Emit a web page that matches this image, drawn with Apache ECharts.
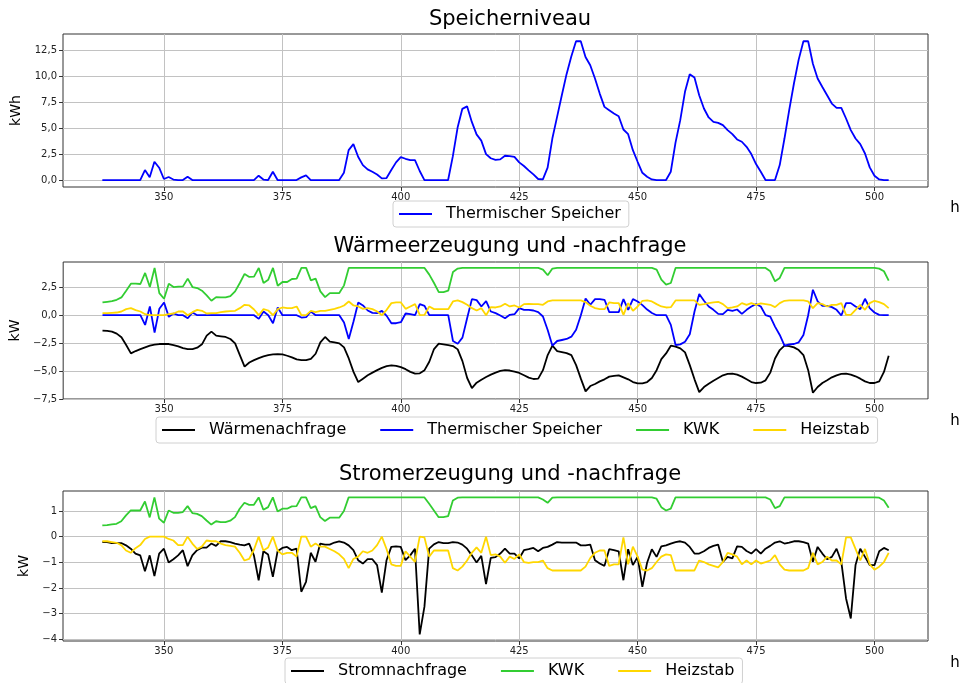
<!DOCTYPE html>
<html>
<head>
<meta charset="utf-8">
<script src="https://cdn.jsdelivr.net/npm/echarts@6.0.0/dist/echarts.min.js"></script>
<style>
  html, body { margin: 0; padding: 0; background: #fff; }
  #main { width: 962px; height: 683px; }
</style>
</head>
<body>
<div id="main"></div>
<script>
// Stunden 337 ... 503
const hours = Array.from({ length: 167 }, (_, i) => 337 + i);
const xTicks = [350, 375, 400, 425, 450, 475, 500];

// Speicherniveau (kWh)
const speicherNiveau = [
  0, 0, 0, 0, 0, 0, 0, 0, 0, 0.96,
  0.26, 1.76, 1.19, 0.1, 0.29, 0.05, 0, 0, 0.32, 0,
  0, 0, 0, 0, 0, 0, 0, 0, 0, 0,
  0, 0, 0, 0.42, 0.05, 0, 0.8, 0, 0, 0,
  0, 0, 0.26, 0.45, 0, 0, 0, 0, 0, 0,
  0, 0.7, 2.88, 3.46, 2.24, 1.44, 1.03, 0.8, 0.54, 0.16,
  0.19, 0.96, 1.7, 2.21, 2.05, 1.92, 1.92, 0.87, 0, 0,
  0, 0, 0, 0, 2.3, 5.06, 6.86, 7.1, 5.6, 4.4,
  3.8, 2.5, 2.1, 1.95, 1.99, 2.34, 2.31, 2.24, 1.7, 1.35,
  0.93, 0.54, 0.1, 0.06, 1.2, 4.0, 6.09, 8.17, 10.2, 11.9,
  13.37, 13.37, 11.86, 11.06, 9.78, 8.33, 7.05, 6.73, 6.41, 6.15,
  4.87, 4.42, 2.88, 1.76, 0.7, 0.32, 0.06, 0, 0, 0,
  0.8, 3.6, 5.77, 8.5, 10.2, 9.87, 8.17, 6.89, 6.03, 5.61,
  5.51, 5.29, 4.81, 4.42, 3.91, 3.69, 3.2, 2.5, 1.54, 0.8,
  0, 0, 0, 1.44, 4.0, 6.73, 9.3, 11.6, 13.37, 13.37,
  11.2, 9.78, 8.97, 8.17, 7.37, 6.96, 6.96, 5.93, 4.81, 4.0,
  3.46, 2.56, 1.22, 0.42, 0.06, 0, 0
];

// Wärme (kW)
const waermeNachfrage = [
  -1.38, -1.41, -1.47, -1.65, -1.98, -2.67, -3.42, -3.21, -3.03, -2.88,
  -2.73, -2.64, -2.58, -2.58, -2.58, -2.67, -2.79, -2.94, -3.03, -3.03,
  -2.91, -2.61, -1.83, -1.47, -1.83, -1.89, -1.95, -2.13, -2.52, -3.57,
  -4.6, -4.23, -4.02, -3.84, -3.69, -3.57, -3.51, -3.48, -3.51, -3.63,
  -3.78, -3.96, -4.02, -4.02, -3.9, -3.45, -2.43, -1.95, -2.37, -2.43,
  -2.52, -2.88, -3.87, -5.07, -5.98, -5.68, -5.38, -5.14, -4.92, -4.71,
  -4.56, -4.5, -4.53, -4.65, -4.83, -5.07, -5.23, -5.2, -4.92, -4.17,
  -3.03, -2.55, -2.61, -2.67, -2.76, -3.06, -4.11, -5.62, -6.52, -6.04,
  -5.77, -5.53, -5.32, -5.14, -4.98, -4.92, -4.95, -5.05, -5.17, -5.38,
  -5.59, -5.71, -5.68, -4.92, -3.57, -2.73, -3.21, -3.3, -3.39, -3.57,
  -4.47, -5.68, -6.82, -6.34, -6.16, -5.92, -5.74, -5.5, -5.44, -5.38,
  -5.56, -5.74, -5.98, -6.1, -6.1, -5.98, -5.62, -4.92, -3.93, -3.42,
  -2.73, -2.82, -2.97, -3.33, -4.47, -5.74, -6.88, -6.43, -6.13, -5.86,
  -5.62, -5.38, -5.26, -5.23, -5.32, -5.5, -5.74, -5.98, -6.07, -6.04,
  -5.83, -5.14, -3.87, -3.12, -2.73, -2.76, -2.88, -3.12, -3.57, -4.92,
  -6.94, -6.43, -6.07, -5.83, -5.56, -5.38, -5.26, -5.23, -5.32, -5.47,
  -5.68, -5.92, -6.07, -6.07, -5.92, -5.08, -3.63
];
const waermeSpeicher = [
  0, 0, 0, 0, 0, 0, 0, 0, 0, -0.87,
  0.78, -1.56, 0.57, 1.14, -0.15, 0.15, 0, 0, -0.27, 0.24,
  0, 0, 0, 0, 0, 0, 0, 0, 0, 0,
  0, 0, 0, -0.33, 0.33, 0, -0.72, 0.69, 0, 0,
  0, 0, -0.21, -0.18, 0.33, 0, 0, 0, 0, 0,
  0, -0.66, -2.13, -0.57, 1.14, 0.87, 0.42, 0.21, 0.18, 0.39,
  -0.06, -0.72, -0.72, -0.63, 0.15, 0.09, 0, 0.99, 0.84, 0,
  0, 0, 0, 0, -2.31, -2.55, -2.01, -0.25, 1.44, 1.35,
  0.78, 1.26, 0.33, 0.18, -0.03, -0.27, 0.03, 0.09, 0.63, 0.48,
  0.48, 0.42, 0.27, -0.12, -1.32, -2.73, -2.31, -2.22, -2.13, -1.92,
  -1.3, 0, 1.5, 0.93, 1.44, 1.44, 1.38, 0.27, 0.27, 0.27,
  1.44, 0.48, 1.44, 1.23, 0.9, 0.5, 0.2, 0, 0, 0,
  -0.87, -2.67, -2.61, -2.37, -1.71, 0.33, 1.89, 1.29, 0.78, 0.48,
  0.12, 0.09, 0.48, 0.39, 0.51, 0.12, 0.48, 0.78, 0.99, 0.78,
  0, -0.12, -1.02, -1.77, -2.73, -2.61, -2.58, -2.43, -1.77, 0,
  2.28, 1.23, 0.84, 0.84, 0.72, 0.48, -0.03, 1.08, 1.08, 0.78,
  0.54, 1.47, 0.63, 0.24, 0.03, 0, 0
];
const waermeKWK = [
  1.14, 1.2, 1.26, 1.38, 1.59, 2.19, 2.82, 2.82, 2.79, 3.78,
  2.52, 4.23, 1.98, 1.47, 2.82, 2.52, 2.55, 2.58, 3.27, 2.52,
  2.43, 2.19, 1.77, 1.29, 1.62, 1.59, 1.59, 1.71, 2.13, 2.88,
  3.69, 3.42, 3.45, 4.23, 2.88, 3.18, 4.23, 2.64, 2.97, 2.97,
  3.24, 3.27, 4.23, 4.23, 3.12, 3.27, 2.13, 1.62, 1.98, 1.98,
  1.98, 2.67, 4.23, 4.23, 4.23, 4.23, 4.23, 4.23, 4.23, 4.23,
  4.23, 4.23, 4.23, 4.23, 4.23, 4.23, 4.23, 4.23, 4.23, 3.63,
  2.88, 2.07, 2.07, 2.19, 3.87, 4.17, 4.23, 4.23, 4.23, 4.23,
  4.23, 4.23, 4.23, 4.23, 4.23, 4.23, 4.23, 4.23, 4.23, 4.23,
  4.23, 4.23, 4.23, 4.08, 3.57, 4.17, 4.23, 4.23, 4.23, 4.23,
  4.23, 4.23, 4.23, 4.23, 4.23, 4.23, 4.23, 4.23, 4.23, 4.23,
  4.23, 4.23, 4.23, 4.23, 4.23, 4.23, 4.23, 4.08, 3.18, 2.73,
  2.88, 4.23, 4.23, 4.23, 4.23, 4.23, 4.23, 4.23, 4.23, 4.23,
  4.23, 4.23, 4.23, 4.23, 4.23, 4.23, 4.23, 4.23, 4.23, 4.23,
  4.23, 3.93, 3.03, 3.33, 4.23, 4.23, 4.23, 4.23, 4.23, 4.23,
  4.23, 4.23, 4.23, 4.23, 4.23, 4.23, 4.23, 4.23, 4.23, 4.23,
  4.23, 4.23, 4.23, 4.23, 4.17, 3.93, 3.09
];
const waermeHeizstab = [
  0.18, 0.18, 0.21, 0.24, 0.33, 0.54, 0.63, 0.45, 0.33, 0.09,
  0, 0, 0, 0, 0.09, 0.15, 0.33, 0.33, 0, 0.27,
  0.48, 0.39, 0.15, 0.18, 0.18, 0.27, 0.33, 0.36, 0.39, 0.63,
  0.93, 0.87, 0.51, 0, 0.54, 0.42, 0, 0.54, 0.69, 0.63,
  0.63, 0.78, 0, 0, 0.39, 0.27, 0.39, 0.39, 0.48, 0.57,
  0.69, 0.87, 1.23, 0.87, 0.78, 0.57, 0.63, 0.54, 0.33, 0,
  0.48, 1.08, 1.14, 1.14, 0.57, 0.78, 0.99, 0, 0.03, 0.78,
  0.54, 0.54, 0.54, 0.54, 1.23, 1.32, 1.17, 0.93, 0.63, 0.42,
  0.63, 0, 0.72, 0.69, 0.78, 1.02, 0.78, 0.87, 0.69, 0.99,
  1.02, 0.99, 0.99, 0.93, 1.23, 1.32, 1.32, 1.32, 1.32, 1.32,
  1.32, 1.32, 1.17, 0.84, 0.63, 0.54, 0.54, 1.14, 1.08, 1.08,
  0.03, 1.08, 0.39, 0.78, 1.29, 1.32, 1.23, 0.99, 0.78, 0.69,
  0.72, 1.32, 1.32, 1.32, 1.32, 1.32, 0.93, 0.99, 1.08, 1.14,
  1.2, 0.99, 0.63, 0.69, 0.78, 1.08, 0.93, 1.08, 0.93, 1.05,
  0.99, 0.93, 0.72, 1.08, 1.29, 1.32, 1.32, 1.32, 1.32, 1.23,
  0.63, 1.08, 0.99, 0.78, 0.93, 0.93, 1.08, 0.03, 0.03, 0.48,
  0.93, 0.48, 1.08, 1.29, 1.17, 0.99, 0.63
];

// Strom (kW)
const stromNachfrage = [
  -0.21, -0.21, -0.25, -0.25, -0.25, -0.34, -0.47, -0.66, -0.73, -1.35,
  -0.73, -1.54, -0.66, -0.47, -1.01, -0.88, -0.73, -0.53, -1.15, -0.73,
  -0.53, -0.43, -0.43, -0.27, -0.36, -0.18, -0.18, -0.21, -0.27, -0.31,
  -0.34, -0.27, -0.73, -1.7, -0.57, -0.7, -1.57, -0.57, -0.44, -0.4,
  -0.53, -0.47, -2.15, -1.76, -0.63, -0.98, -0.27, -0.31, -0.31, -0.23,
  -0.18, -0.23, -0.34, -0.53, -0.92, -1.05, -0.88, -0.88, -1.11, -2.18,
  -0.92, -0.4, -0.38, -0.4, -0.92, -0.73, -0.47, -3.81, -2.73, -0.47,
  -0.3, -0.21, -0.25, -0.25, -0.21, -0.23, -0.31, -0.47, -0.73, -1.01,
  -0.75, -1.85, -0.83, -0.8, -0.66, -0.47, -0.66, -0.66, -0.85, -0.53,
  -0.49, -0.44, -0.57, -0.44, -0.4, -0.31, -0.21, -0.23, -0.23, -0.23,
  -0.23, -0.34, -0.34, -0.31, -0.92, -1.05, -1.14, -0.49, -0.53, -0.57,
  -1.7, -0.49, -1.11, -0.79, -1.96, -1.02, -0.49, -0.79, -0.38, -0.34,
  -0.27, -0.21, -0.18, -0.23, -0.4, -0.66, -0.66, -0.57, -0.44, -0.36,
  -0.31, -0.98, -0.79, -0.85, -0.38, -0.4, -0.56, -0.66, -0.49, -0.66,
  -0.47, -0.36, -0.23, -0.18, -0.27, -0.23, -0.18, -0.18, -0.21, -0.27,
  -0.98, -0.4, -0.66, -0.88, -0.79, -0.47, -0.98, -2.41, -3.19, -1.11,
  -0.47, -0.79, -1.11, -1.11, -0.57, -0.44, -0.53
];
const stromKWK = [
  0.44, 0.45, 0.48, 0.5, 0.6, 0.83, 1.02, 1.02, 1.02, 1.37,
  0.75, 1.53, 0.7, 0.54, 1.02, 0.93, 0.93, 0.96, 1.19, 0.92,
  0.89, 0.8, 0.63, 0.47, 0.6, 0.57, 0.57, 0.62, 0.76, 1.09,
  1.32, 1.24, 1.24, 1.53, 1.05, 1.15, 1.53, 0.98, 1.09, 1.09,
  1.18, 1.19, 1.53, 1.53, 1.11, 1.19, 0.76, 0.61, 0.74, 0.74,
  0.74, 1.0, 1.53, 1.53, 1.53, 1.53, 1.53, 1.53, 1.53, 1.53,
  1.53, 1.53, 1.53, 1.53, 1.53, 1.53, 1.53, 1.53, 1.53, 1.28,
  1.02, 0.76, 0.76, 0.8, 1.41, 1.52, 1.53, 1.53, 1.53, 1.53,
  1.53, 1.53, 1.53, 1.53, 1.53, 1.53, 1.53, 1.53, 1.53, 1.53,
  1.53, 1.53, 1.53, 1.45, 1.32, 1.52, 1.53, 1.53, 1.53, 1.53,
  1.53, 1.53, 1.53, 1.53, 1.53, 1.53, 1.53, 1.53, 1.53, 1.53,
  1.53, 1.53, 1.53, 1.53, 1.53, 1.53, 1.53, 1.48, 1.15, 1.02,
  1.09, 1.53, 1.53, 1.53, 1.53, 1.53, 1.53, 1.53, 1.53, 1.53,
  1.53, 1.53, 1.53, 1.53, 1.53, 1.53, 1.53, 1.53, 1.53, 1.53,
  1.53, 1.45, 1.11, 1.19, 1.53, 1.53, 1.53, 1.53, 1.53, 1.53,
  1.53, 1.53, 1.53, 1.53, 1.53, 1.53, 1.53, 1.53, 1.53, 1.53,
  1.53, 1.53, 1.53, 1.53, 1.52, 1.41, 1.13
];
const stromHeizstab = [
  -0.18, -0.18, -0.21, -0.24, -0.33, -0.54, -0.63, -0.45, -0.33, -0.09,
  0, 0, 0, 0, -0.09, -0.15, -0.33, -0.33, 0, -0.27,
  -0.48, -0.39, -0.15, -0.18, -0.18, -0.27, -0.33, -0.36, -0.39, -0.63,
  -0.93, -0.87, -0.51, 0, -0.54, -0.42, 0, -0.54, -0.69, -0.63,
  -0.63, -0.78, 0, 0, -0.39, -0.27, -0.39, -0.39, -0.48, -0.57,
  -0.69, -0.87, -1.23, -0.87, -0.78, -0.57, -0.63, -0.54, -0.33, 0,
  -0.48, -1.08, -1.14, -1.14, -0.57, -0.78, -0.99, 0, -0.03, -0.78,
  -0.54, -0.54, -0.54, -0.54, -1.23, -1.32, -1.17, -0.93, -0.63, -0.42,
  -0.63, 0, -0.72, -0.69, -0.78, -1.02, -0.78, -0.87, -0.69, -0.99,
  -1.02, -0.99, -0.99, -0.93, -1.23, -1.32, -1.32, -1.32, -1.32, -1.32,
  -1.32, -1.32, -1.17, -0.84, -0.63, -0.54, -0.54, -1.14, -1.08, -1.08,
  -0.03, -1.08, -0.39, -0.78, -1.29, -1.32, -1.23, -0.99, -0.78, -0.69,
  -0.72, -1.32, -1.32, -1.32, -1.32, -1.32, -0.93, -0.99, -1.08, -1.14,
  -1.2, -0.99, -0.63, -0.69, -0.78, -1.08, -0.93, -1.08, -0.93, -1.05,
  -0.99, -0.93, -0.72, -1.08, -1.29, -1.32, -1.32, -1.32, -1.32, -1.23,
  -0.63, -1.08, -0.99, -0.78, -0.93, -0.93, -1.08, -0.03, -0.03, -0.48,
  -0.93, -0.48, -1.08, -1.29, -1.17, -0.99, -0.63
];

const FONT = 'DejaVu Sans';
const BLUE = '#0000ff', BLACK = '#000000', GREEN = '#32cd32', GOLD = '#ffd700';

const pairs = vals => vals.map((v, i) => [hours[i], v]);
const deNum = (v, d) => v.toFixed(d).replace('.', ',').replace('-', '\u2212');

const grids = [
  { left: 63, top: 34, width: 865, height: 153 },
  { left: 63, top: 262, width: 865, height: 137 },
  { left: 63, top: 491, width: 865, height: 150 }
].map(g => Object.assign(g, { show: true, borderColor: '#333', borderWidth: 1, backgroundColor: 'transparent' }));

const xAxes = [0, 1, 2].map(i => ({
  gridIndex: i, type: 'value', min: 328.7, max: 511.3,
  axisLine: { show: false, onZero: false },
  axisTick: { show: true, length: 4, lineStyle: { color: '#333' }, customValues: xTicks },
  axisLabel: { customValues: xTicks, fontSize: 10, color: '#222', margin: 5, fontFamily: FONT },
  splitLine: { show: true, lineStyle: { color: '#c2c2c2', width: 1 } }
}));

const yCommon = (i, min, max, ticks, dec, name, gap) => ({
  gridIndex: i, type: 'value', min: min, max: max,
  name: name, nameLocation: 'middle', nameRotate: 90, nameGap: gap,
  nameTextStyle: { fontSize: 14, color: '#000', fontFamily: FONT },
  axisLine: { show: false, onZero: false },
  axisTick: { show: true, length: 4, lineStyle: { color: '#333' }, customValues: ticks },
  axisLabel: { customValues: ticks, fontSize: 10, color: '#222', margin: 6, fontFamily: FONT,
    formatter: v => deNum(v, dec) },
  splitLine: { show: true, lineStyle: { color: '#c2c2c2', width: 1 } }
});

const yAxes = [
  yCommon(0, -0.67, 14.07, [0, 2.5, 5, 7.5, 10, 12.5], 1, 'kWh', 38),
  yCommon(1, -7.5, 4.76, [-7.5, -5, -2.5, 0, 2.5], 1, 'kW', 39),
  yCommon(2, -4.07, 1.78, [-4, -3, -2, -1, 0, 1], 0, 'kW', 31)
];

const line = (name, vals, color, idx) => ({
  name: name, type: 'line', data: pairs(vals),
  xAxisIndex: idx, yAxisIndex: idx,
  symbol: 'none', lineStyle: { color: color, width: 1.8 }, itemStyle: { color: color },
  animation: false
});

const legendBase = {
  orient: 'horizontal', icon: 'rect', itemWidth: 33, itemHeight: 2, itemGap: 34,
  selectedMode: false, backgroundColor: 'rgba(255,255,255,0.8)',
  borderColor: '#d0d0d0', borderWidth: 1, borderRadius: 3,
  padding: [5, 8, 5, 6],
  textStyle: { fontSize: 16, color: '#000', fontFamily: FONT, padding: [0, 0, 0, 9] }
};

const titleText = (text, y) => ({
  type: 'text', x: 510, y: y,
  style: { text: text, font: '21px "' + FONT + '"', fill: '#000', align: 'center', verticalAlign: 'middle' }
});
const hLabel = y => ({
  type: 'text', x: 955, y: y,
  style: { text: 'h', font: '15px "' + FONT + '"', fill: '#000', align: 'center', verticalAlign: 'middle' }
});

const chart = echarts.init(document.getElementById('main'));
chart.setOption({
  animation: false,
  grid: grids,
  xAxis: xAxes,
  yAxis: yAxes,
  legend: [
    Object.assign({}, legendBase, { left: 393, top: 201, data: ['Thermischer Speicher'] }),
    Object.assign({}, legendBase, { left: 156, top: 417, data: ['Wärmenachfrage', 'Thermischer Speicher', 'KWK', 'Heizstab'] }),
    Object.assign({}, legendBase, { left: 285, top: 658, data: ['Stromnachfrage', 'KWK', 'Heizstab'] })
  ],
  graphic: [
    titleText('Speicherniveau', 20),
    titleText('Wärmeerzeugung und -nachfrage', 247),
    titleText('Stromerzeugung und -nachfrage', 475),
    hLabel(208), hLabel(421), hLabel(663)
  ],
  series: [
    line('Thermischer Speicher', speicherNiveau, BLUE, 0),
    line('Wärmenachfrage', waermeNachfrage, BLACK, 1),
    line('Thermischer Speicher', waermeSpeicher, BLUE, 1),
    line('KWK', waermeKWK, GREEN, 1),
    line('Heizstab', waermeHeizstab, GOLD, 1),
    line('Stromnachfrage', stromNachfrage, BLACK, 2),
    line('KWK', stromKWK, GREEN, 2),
    line('Heizstab', stromHeizstab, GOLD, 2)
  ]
});
</script>
</body>
</html>
